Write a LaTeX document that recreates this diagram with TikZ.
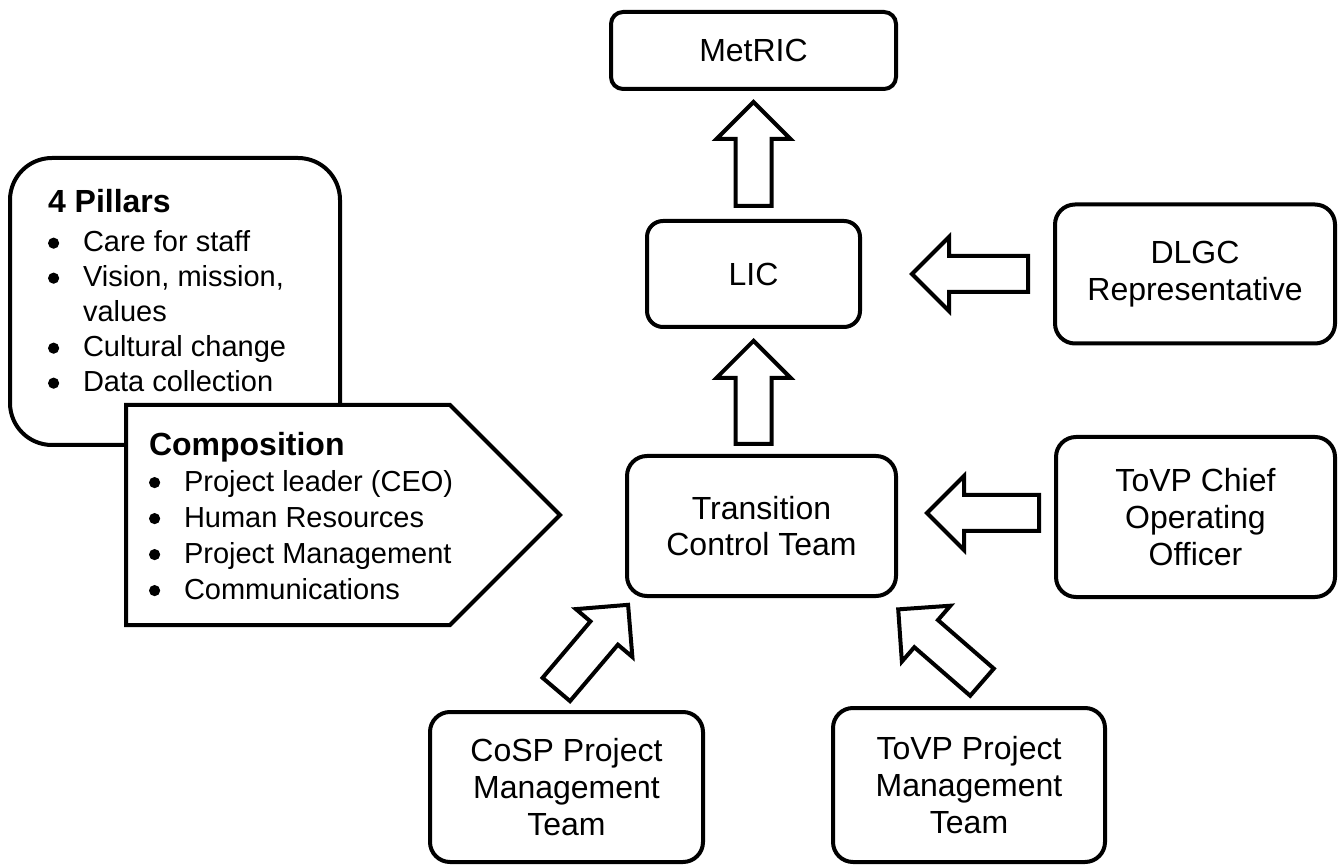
\documentclass[tikz,border=0pt]{standalone}
\usepackage{fontspec}
\setmainfont{Liberation Sans}
\usepackage{tikz}
\usetikzlibrary{calc,positioning,shapes.arrows,shapes.symbols}

\newcommand{\bdot}{\tikz[x=1pt, y=1pt, baseline={(0pt,-4.3pt)}]\fill (2.8,0) circle[radius=2.8];}
\newcommand{\bitem}[1]{\makebox[17.5pt][l]{\bdot}\mbox{#1}}
\newcommand{\bcont}[1]{\hspace*{17.5pt}\mbox{#1}}
\newcommand{\btitle}[1]{{\fontsize{16}{18}\selectfont\bfseries #1}}

\begin{document}
\begin{tikzpicture}[
		x=0.5pt, y=-0.5pt,
		font=\fontsize{16}{18.3}\selectfont,
		% Node styles
		orgbox/.style={
			rectangle, rounded corners=10pt,
			draw=black, line width=2pt, fill=white,
			align=center, inner sep=0pt
		},
		pillarbox/.style={
			rectangle, rounded corners=21pt,
			draw=black, line width=2pt, fill=white,
			inner sep=0pt, minimum width=165pt, minimum height=143.5pt,
			font=\fontsize{14.5}{17.5}\selectfont
		},
		compbox/.style={
			signal, signal to=east, signal pointer angle=90,
			draw=black, line width=2pt, fill=white,
			inner sep=0pt, font=\fontsize{14.5}{18}\selectfont
		},
		blockarr/.style={
			single arrow, draw=black, line width=2pt, fill=white,
			inner xsep=0pt, inner ysep=8pt,
			single arrow head extend=9.5pt, minimum width=1pt
		}
	]
	\useasboundingbox (0,0) rectangle (1338,865);
	
	%% --- central column ---
	\node[orgbox, rounded corners=8pt, minimum width=106.5pt, minimum height=53pt] (lic) at (753.5,274) {LIC};
	\node[orgbox, rounded corners=6pt, minimum width=142.5pt, minimum height=38.5pt, above=64pt of lic] (metric) {MetRIC};
	\node[orgbox, minimum width=134.5pt, minimum height=70pt, below=62.5pt of lic, xshift=4pt] (tct) {Transition\\Control Team};
	
	%% --- right column ---
	\node[orgbox, minimum width=140pt, minimum height=69.5pt, right=95.5pt of lic] (dlgc) {DLGC\\Representative};
	\node[orgbox, minimum width=139.5pt, minimum height=80pt, right=78pt of tct, yshift=4.5pt] (coo) {ToVP Chief\\Operating\\Officer};
	
	%% --- bottom row ---
	\node[orgbox, minimum width=136.5pt, minimum height=75pt] (cosp) at (566.5,787) {CoSP Project\\Management\\Team};
	\node[orgbox, minimum width=136pt, minimum height=77pt] (tpmt) at (969,785) {ToVP Project\\Management\\Team};
	
	%% --- left notes ---
	\node[pillarbox] (pillars) at (175,301.5) {\parbox[t][111.9pt][t]{127pt}{%
			\btitle{4 Pillars}\\[2pt]
			\bitem{Care for staff}\\
			\bitem{Vision, mission,}\\
			\bcont{values}\\
			\bitem{Cultural change}\\
			\bitem{Data collection}}};
	\node[compbox, anchor=west] (comp) at (124,515) {\parbox[t][110pt][t]{162pt}{%
			\vspace*{13.5pt}\leftskip=11.5pt
			\btitle{Composition}\\
			\bitem{Project leader (CEO)}\\
			\bitem{Human Resources}\\
			\bitem{Project Management}\\
			\bitem{Communications}}};
	
	%% --- block arrows ---
	\node[blockarr, rotate=90, minimum height=52pt, anchor=tail] (up1) at ([yshift=5.5pt]lic.north) {};
	\node[blockarr, rotate=90, minimum height=51.5pt, anchor=tip] (up2) at ([yshift=-4.5pt]lic.south) {};
	\node[blockarr, rotate=180, minimum height=58pt, anchor=tail] (fromdlgc) at ([xshift=-11.5pt]dlgc.west) {};
	\node[blockarr, rotate=180, minimum height=56pt, anchor=tail] (fromcoo) at ([xshift=-6.5pt,yshift=2pt]coo.west) {};
	\node[blockarr, rotate=49.7, minimum height=55.5pt, anchor=tail] (fromcosp) at ([shift={(-5.75pt,9.5pt)}]cosp.north) {};
	\node[blockarr, rotate=139, minimum height=55.5pt, anchor=tail] (fromtpmt) at ([shift={(7.25pt,11.25pt)}]tpmt.north) {};
	
\end{tikzpicture}
\end{document}
